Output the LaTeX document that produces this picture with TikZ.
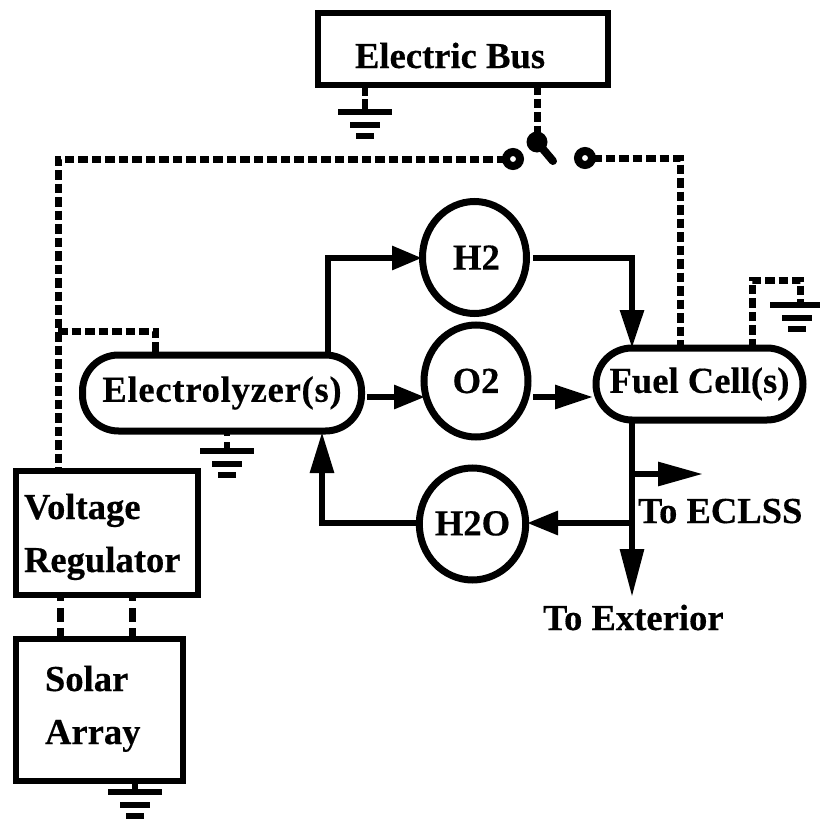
\documentclass[tikz,border=0pt]{standalone}
\usepackage{fontspec}
\setmainfont[BoldFeatures={FakeBold=0.35}]{Liberation Serif}
\usetikzlibrary{arrows.meta,calc,shapes.geometric}
\tikzset{
  x=1pt,y=-1pt,
  every node/.style={font=\fontsize{36.6}{41}\selectfont\bfseries,inner sep=0pt,outer sep=0pt},
  box/.style={draw=black,line width=6.5pt,fill=white,rectangle},
  pill/.style={box,line width=7pt,rounded corners=36pt},
  tank/.style={draw=black,line width=7pt,fill=white,ellipse,minimum width=104pt,minimum height=112pt},
  pipe/.style={line width=6pt,draw=black},
  flow/.style={pipe,-{Triangle[length=#1,width=23pt]}},
  dashwire/.style={line width=7pt,draw=black,dash pattern=on 9.5pt off 4pt},
  shortwire/.style={line width=7pt,draw=black,dash pattern=on 6pt off 7pt on 14pt off 6pt on 20pt off 0pt},
  earth/.style={line width=5.5pt,draw=black},
  txt/.style={anchor=base west},
  contact/.style={draw=black,line width=8pt,circle,minimum size=14pt,fill=white},
}
\newcommand{\groundat}[1]{%
  \draw[earth] ($(#1)+(-27,0)$) -- ($(#1)+(27,0)$);
  \draw[earth] ($(#1)+(-15,13)$) -- ($(#1)+(15,13)$);
  \draw[line width=6.5pt] ($(#1)+(-9,24)$) -- ($(#1)+(9,24)$);
}
\begin{document}
\begin{tikzpicture}
\useasboundingbox (0,0) rectangle (820,819);
\fill[white] (0,0) rectangle (820,819);
\coordinate (g1) at (365,112);
\coordinate (g2) at (227,451);
\coordinate (g3) at (135,792);
\coordinate (g4) at (797,305);
\coordinate (g4s) at (800,305);
\coordinate (pv) at (537,142);
\coordinate (cl) at (58,158);
\coordinate (br) at (58,331);
\coordinate (cr) at (680,158);
\coordinate (fg1) at (752,280);
\coordinate (fg2) at (800,280);
\coordinate (vt) at (58,471);
\coordinate (elt) at (155,355);
\coordinate (elb) at (155,331);
\coordinate (d1) at (60,600);
\coordinate (d2) at (132,600);
% boxes
\node[box,minimum width=290pt,minimum height=72pt] (bus) at (463,49) {};
\node[box,minimum width=182pt,minimum height=124pt] (vr) at (107,533) {};
\node[box,minimum width=167pt,minimum height=142pt] (sa) at (99.5,710) {};
\node[pill,minimum width=279pt,minimum height=76pt] (el) at (222,393) {\addfontfeature{LetterSpace=2}Electrolyzer(s)};
\node[pill,minimum width=207pt,minimum height=72pt] (fc) at (699.5,384) {\raisebox{-3pt}{Fuel Cell(s)}};
\node[tank] (h2) at (474.5,257.5) {\hspace{4pt}H2};
\node[tank] (o2) at (476,381) {\raisebox{-6pt}{O2}};
\node[tank] (h2o) at (472.5,524) {\raisebox{1.5pt}{H2O}};
\node[contact] (s1) at (513,159) {};
\node[contact] (s2) at (585,158) {};
\fill (pv) circle (10.5pt);
\node[circle,minimum size=1pt] (pvn) at (pv) {};
\coordinate (lv) at (553,161);
\draw[line width=8pt,line cap=round] (pv) -- (lv);
% text
\node[txt] (tbus) at (355,68) {Electric Bus};
\node[txt] (tv1) at (24,519) {Voltage};
\node[txt] (tv2) at (24,572) {Regulator};
\node[txt] (ts1) at (45,691) {Solar};
\node[txt] (ts2) at (45,744) {Array};
\node[txt] (te) at (638,523) {To ECLSS};
\node[txt] (tx) at (543,630) {To Exterior};
% dashed wires
\draw[dashwire] (s1.west) -- (s1.west -| cl) -- (vt);
\draw[dashwire] (br) -- (elb) -- (elt);
\draw[dashwire] (bus.south -| pv) -- (pvn);
\draw[dashwire] (s2.east) -- (cr) -- (cr |- fc.north);
\draw[dashwire] (fg1 |- fc.north) -- (fg1) -- (fg2) -- (g4s);
\draw[shortwire] (vr.south -| d1) -- (sa.north -| d1);
\draw[shortwire] (vr.south -| d2) -- (sa.north -| d2);
% grounds
\draw[earth,line width=6.5pt,dash pattern=on 11pt off 3pt on 20pt off 0pt] (bus.south -| g1) -- (g1);
\draw[earth,line width=6.5pt,dash pattern=on 5pt off 6pt on 20pt off 0pt] (el.south -| g2) -- (g2);
\draw[earth,line width=6.5pt] (sa.south -| g3) -- (g3);
\groundat{g1}\groundat{g2}\groundat{g3}\groundat{g4}
% flows
\coordinate (a1) at (328,258);
\coordinate (a1t) at (422,258);
\coordinate (a2) at (632,258);
\coordinate (a3) at (632,474);
\coordinate (a4) at (703,474);
\coordinate (a5) at (632,597);
\coordinate (a6) at (632,523);
\coordinate (a6t) at (527,523);
\coordinate (a7) at (322,523);
\coordinate (a7t) at (322,432);
\coordinate (b1) at (367,397);
\coordinate (b2) at (425,397);
\coordinate (b3) at (533,397);
\coordinate (b4) at (593,397);
\coordinate (b5) at (533,258);
\draw[flow=30pt] (el.north -| a1) -- (a1) -- (a1t);
\draw[flow=38pt] (b5) -- (a2) -- (fc.north -| a2);
\draw[flow=31pt] (b1) -- (b2);
\draw[flow=38pt] (b3) -- (b4);
\draw[flow=48pt] (fc.south -| a2) -- (a5);
\draw[flow=45pt] (a3) -- (a4);
\draw[flow=31pt] (a6) -- (a6t);
\draw[flow=41pt] (h2o.west |- a7) -- (a7) -- (a7t);
\end{tikzpicture}
\end{document}
